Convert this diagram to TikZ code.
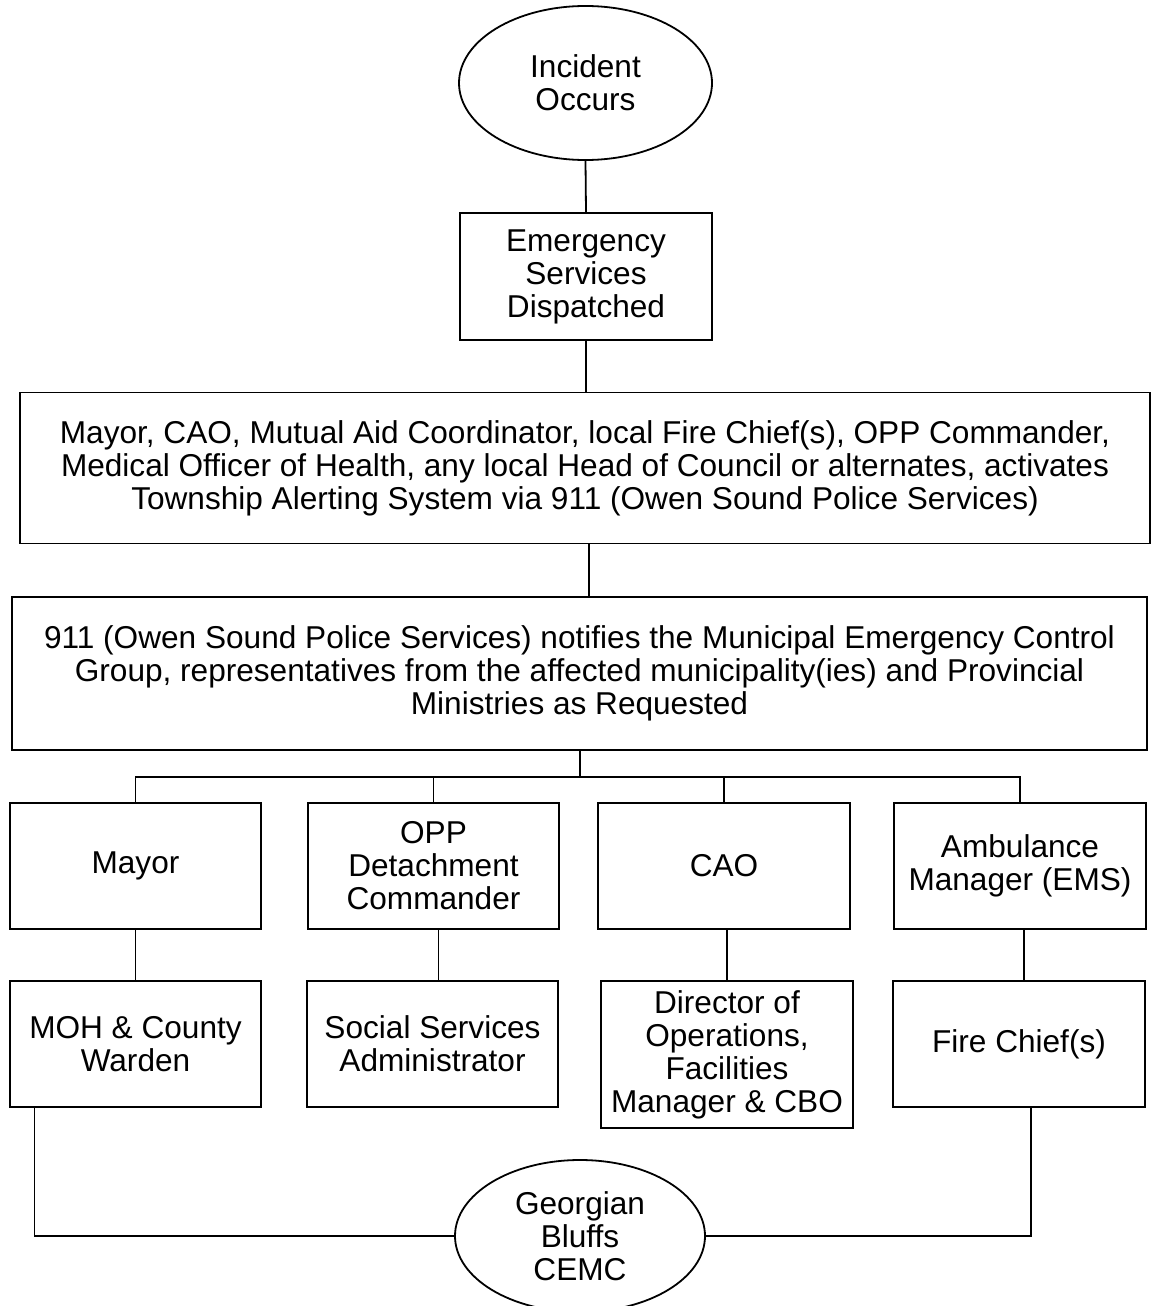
\documentclass[tikz,border=0pt]{standalone}
\usepackage{fontspec}
\setmainfont{Liberation Sans}
\usetikzlibrary{shapes.geometric}
\begin{document}
\begin{tikzpicture}[x=1pt,y=-1pt,
  every node/.style={font=\fontsize{31.6}{33}\selectfont, align=center, inner sep=0pt},
  box/.style={draw, line width=1.8pt, rectangle},
  oval/.style={draw, line width=1.8pt, ellipse},
  conn/.style={line width=1.8pt}]
\useasboundingbox (0,0) rectangle (1152,1306);
\node[oval, minimum width=253, minimum height=154] (inc) at (585.5,83) {Incident\\Occurs};
\node[box, minimum width=252, minimum height=127] (esd) at (586,276.5) {Emergency\\Services\\Dispatched};
\node[box, minimum width=1130, minimum height=151] (b1) at (585,468) {Mayor, CAO, Mutual Aid Coordinator, local Fire Chief(s), OPP Commander,\\Medical Officer of Health, any local Head of Council or alternates, activates\\Township Alerting System via 911 (Owen Sound Police Services)};
\node[box, minimum width=1135, minimum height=153] (b2) at (579.5,673.5) {911 (Owen Sound Police Services) notifies the Municipal Emergency Control\\Group, representatives from the affected municipality(ies) and Provincial\\Ministries as Requested};
\node[box, minimum width=251, minimum height=126] (mayor) at (135.5,866) {Mayor};
\node[box, minimum width=251, minimum height=126] (opp) at (433.5,866) {OPP\\Detachment\\Commander};
\node[box, minimum width=252, minimum height=126] (cao) at (724,866) {CAO};
\node[box, minimum width=252, minimum height=126] (amb) at (1020,866) {Ambulance\\Manager (EMS)};
\node[box, minimum width=251, minimum height=126] (moh) at (135.5,1044) {MOH \& County\\Warden};
\node[box, minimum width=251, minimum height=126] (soc) at (432.5,1044) {Social Services\\Administrator};
\node[box, minimum width=252, minimum height=147] (dir) at (727,1054.5) {Director of\\Operations,\\Facilities\\Manager \& CBO};
\node[box, minimum width=252, minimum height=126] (fire) at (1019,1044) {Fire Chief(s)};
\node[oval, minimum width=250, minimum height=152] (gb) at (580,1236) {Georgian\\Bluffs\\CEMC};
\coordinate (bus) at (580,777);
\draw[conn] (inc.south) -- (esd.north);
\draw[conn] (esd.south) -- (esd.south |- b1.north);
\draw[conn] ([xshift=4]b1.south) -- ([xshift=4]b1.south |- b2.north);
\draw[conn] (b2.south -| bus) -- (bus);
\draw[conn] (mayor.north) |- (bus) -| (amb.north);
\draw[conn] (opp.north) -- (opp.north |- bus);
\draw[conn] (cao.north) -- (cao.north |- bus);
\draw[conn] (mayor.south) -- (moh.north);
\draw[conn] ([xshift=5]opp.south) -- ([xshift=5]opp.south |- soc.north);
\draw[conn] ([xshift=3]cao.south) -- ([xshift=3]cao.south |- dir.north);
\draw[conn] ([xshift=4]amb.south) -- ([xshift=4]amb.south |- fire.north);
\draw[conn] ([xshift=-101]moh.south) |- (gb.west);
\draw[conn] ([xshift=12]fire.south) |- (gb.east);
\end{tikzpicture}
\end{document}
